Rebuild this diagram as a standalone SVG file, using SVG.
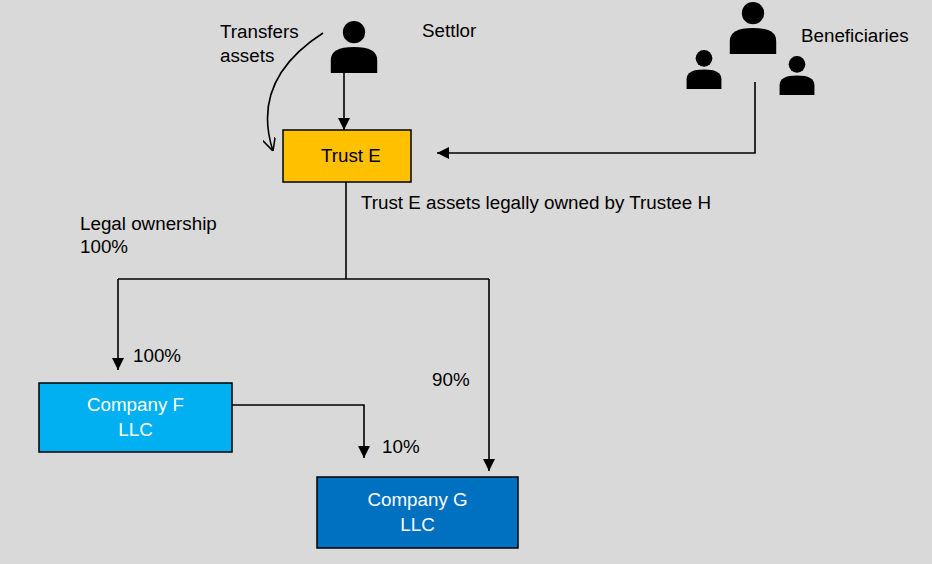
<svg xmlns="http://www.w3.org/2000/svg" width="932" height="564" viewBox="0 0 932 564">
<style>
text{font-family:"Liberation Sans",Arial,sans-serif;font-size:18.8px;fill:#000}
.c{stroke:#000;stroke-width:1.6;fill:none}
.w{fill:#fff}
</style>
<defs>
<marker id="a" viewBox="0 0 10 10" refX="10" refY="5" markerWidth="12" markerHeight="12" markerUnits="userSpaceOnUse" orient="auto"><path d="M0,0L10,5L0,10z" fill="#000"/></marker>
<marker id="o" viewBox="0 0 10 10" refX="10" refY="5" markerWidth="13" markerHeight="13" markerUnits="userSpaceOnUse" orient="auto"><path d="M0,0L10,5L0,10" fill="none" stroke="#000" stroke-width="1.2"/></marker>
<symbol id="p" viewBox="0 0 50 56"><circle cx="25" cy="12" r="12"/><path d="M0,56V42Q0,28 25,28Q50,28 50,42V56z"/></symbol>
</defs>
<rect width="932" height="564" fill="#d9d9d9"/>
<g id="connectors">
<path class="c" d="M344,73V130" marker-end="url(#a)"/>
<path class="c" d="M755,82V153H437" marker-end="url(#a)"/>
<path class="c" d="M323,33Q250,80 273,151" marker-end="url(#o)"/>
<path class="c" d="M346,182V279"/>
<path class="c" d="M118,279H489"/>
<path class="c" d="M118,279V370" marker-end="url(#a)"/>
<path class="c" d="M489,279V471" marker-end="url(#a)"/>
<path class="c" d="M232,405H364V458" marker-end="url(#a)"/>
</g>
<g id="settlor"><use href="#p" x="329" y="21" width="50" height="52"/><text x="422" y="37">Settlor</text></g>
<g id="beneficiaries">
<use href="#p" x="728" y="2" width="50" height="52"/>
<use href="#p" x="685" y="50" width="38" height="39"/>
<use href="#p" x="778" y="56" width="38" height="39"/>
<text x="801" y="42">Beneficiaries</text>
</g>
<g id="trust"><rect x="283" y="130" width="128" height="52" fill="#ffc000" stroke="#000" stroke-width="1.5"/><text x="321" y="162">Trust E</text></g>
<g id="companyF"><rect x="39" y="383" width="193" height="69" fill="#00b0f0" stroke="#000" stroke-width="1.5"/><text class="w" x="135.5" y="411" text-anchor="middle">Company F</text><text class="w" x="135.5" y="436" text-anchor="middle">LLC</text></g>
<g id="companyG"><rect x="317" y="477" width="201" height="71" fill="#0070c0" stroke="#000" stroke-width="1.5"/><text class="w" x="417.5" y="506" text-anchor="middle">Company G</text><text class="w" x="417.5" y="531" text-anchor="middle">LLC</text></g>
<g id="labels">
<text x="220" y="38">Transfers</text><text x="220" y="62">assets</text>
<text x="361" y="209">Trust E assets legally owned by Trustee H</text>
<text x="80" y="230">Legal ownership</text><text x="80" y="253">100%</text>
<text x="133" y="362">100%</text>
<text x="432" y="386">90%</text>
<text x="382" y="453">10%</text>
</g>
</svg>
